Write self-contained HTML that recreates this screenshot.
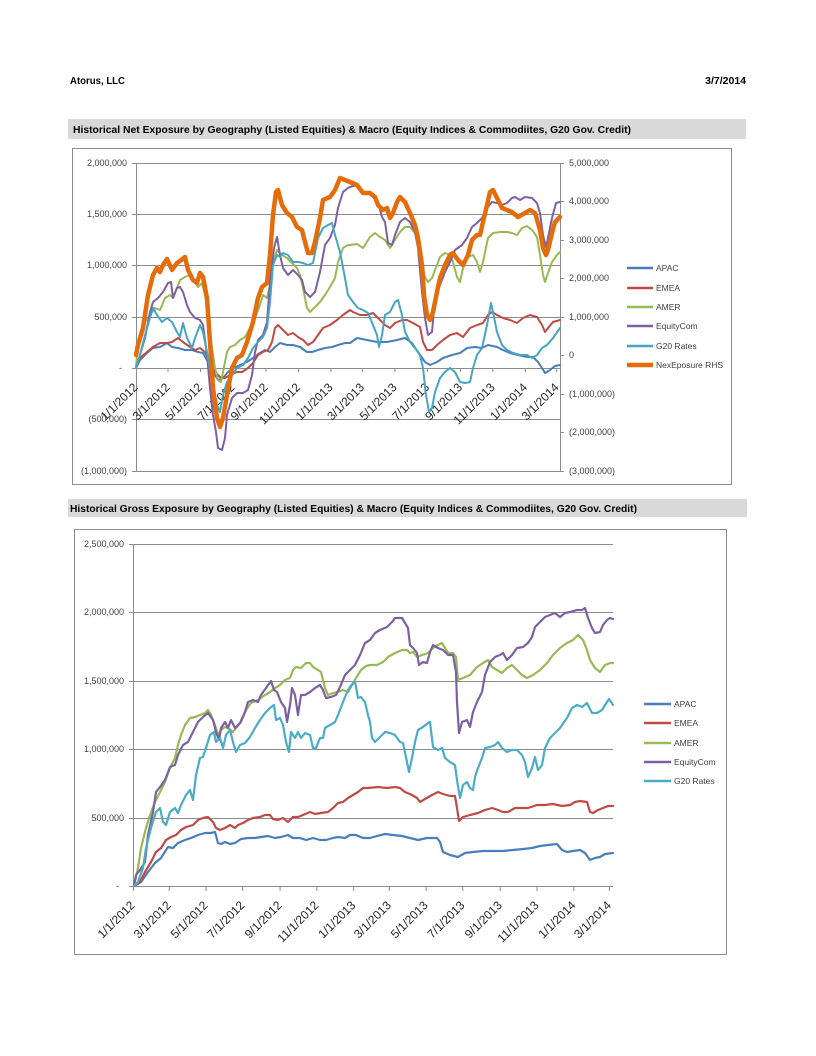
<!DOCTYPE html>
<html><head><meta charset="utf-8"><style>
html,body{margin:0;padding:0;background:#fff;}
svg{display:block;}
text{font-family:"Liberation Sans",sans-serif;}
</style></head><body>
<svg width="816" height="1056" viewBox="0 0 816 1056" xmlns="http://www.w3.org/2000/svg">
<rect width="816" height="1056" fill="#fff"/>
<!-- header -->
<text x="70" y="84" font-size="10" font-weight="bold" fill="#000" textLength="55" lengthAdjust="spacingAndGlyphs">Atorus, LLC</text>
<text x="746" y="84" font-size="10.5" font-weight="bold" fill="#000" text-anchor="end">3/7/2014</text>

<!-- title bar 1 -->
<rect x="68" y="119" width="678" height="20" fill="#D9D9D9"/>
<text x="73" y="133" font-size="10" font-weight="bold" fill="#000" textLength="558" lengthAdjust="spacingAndGlyphs">Historical Net Exposure by Geography (Listed Equities) &amp; Macro (Equity Indices &amp; Commodiites, G20 Gov. Credit)</text>

<!-- chart 1 frame -->
<rect x="72.5" y="148.5" width="659" height="336" fill="#fff" stroke="#8C8C8C" stroke-width="1"/>
<g stroke="#8C8C8C" stroke-width="1" fill="none">
<line x1="136" y1="163.5" x2="560" y2="163.5"/>
<line x1="136" y1="214.5" x2="560" y2="214.5"/>
<line x1="136" y1="265.5" x2="560" y2="265.5"/>
<line x1="136" y1="317.5" x2="560" y2="317.5"/>
<line x1="136" y1="368.5" x2="560" y2="368.5"/>
<line x1="136" y1="419.5" x2="560" y2="419.5"/>
<line x1="136" y1="471.5" x2="560" y2="471.5"/>
<line x1="136.5" y1="163" x2="136.5" y2="471"/>
<line x1="560.5" y1="163" x2="560.5" y2="471"/>
<!-- left ticks -->
<path d="M132 163.5H136M132 214.5H136M132 265.5H136M132 317.5H136M132 368.5H136M132 419.5H136M132 471.5H136"/>
<!-- right ticks -->
<path d="M560 163.5H564M560 201.5H564M560 240.5H564M560 278.5H564M560 317.5H564M560 355.5H564M560 394.5H564M560 432.5H564M560 471.5H564"/>
<!-- x ticks -->
<path d="M136.5 368V372M168 368V372M200.5 368V372M233 368V372M266 368V372M298.5 368V372M331 368V372M362.4 368V372M394.9 368V372M427.4 368V372M460.4 368V372M492.9 368V372M525.4 368V372M556.8 368V372"/>
</g>
<g font-size="9" fill="#404040" text-anchor="end">
<text x="127" y="166">2,000,000</text>
<text x="127" y="217">1,500,000</text>
<text x="127" y="268">1,000,000</text>
<text x="127" y="320">500,000</text>
<text x="122" y="371">-</text>
<text x="127" y="422">(500,000)</text>
<text x="127" y="474">(1,000,000)</text>
</g>
<g font-size="9" fill="#404040">
<text x="569" y="166">5,000,000</text>
<text x="569" y="204">4,000,000</text>
<text x="569" y="243">3,000,000</text>
<text x="569" y="281">2,000,000</text>
<text x="569" y="320">1,000,000</text>
<text x="569" y="358">0</text>
<text x="569" y="397">(1,000,000)</text>
<text x="569" y="435">(2,000,000)</text>
<text x="569" y="474">(3,000,000)</text>
</g>
<g font-size="12" fill="#262626" text-anchor="end">
<text transform="translate(138.5,388) rotate(-45)">1/1/2012</text>
<text transform="translate(170.5,388) rotate(-45)">3/1/2012</text>
<text transform="translate(203,388) rotate(-45)">5/1/2012</text>
<text transform="translate(235.5,388) rotate(-45)">7/1/2012</text>
<text transform="translate(268.5,388) rotate(-45)">9/1/2012</text>
<text transform="translate(301,388) rotate(-45)">11/1/2012</text>
<text transform="translate(333.5,388) rotate(-45)">1/1/2013</text>
<text transform="translate(365,388) rotate(-45)">3/1/2013</text>
<text transform="translate(397.5,388) rotate(-45)">5/1/2013</text>
<text transform="translate(430,388) rotate(-45)">7/1/2013</text>
<text transform="translate(463,388) rotate(-45)">9/1/2013</text>
<text transform="translate(495.5,388) rotate(-45)">11/1/2013</text>
<text transform="translate(528,388) rotate(-45)">1/1/2014</text>
<text transform="translate(559.5,388) rotate(-45)">3/1/2014</text>
</g>
<g fill="none" stroke-linejoin="round" stroke-linecap="round">
<polyline stroke="#4A7EBB" stroke-width="2" points="136,368 140,360 147,353 153,348 160,347 167,343 172,347 178,348 185,350 192,350 198,352 203,353 208,362 213,372 218,380 223,378 228,372 233,368 240,365 247,362 253,358 260,353 265,350 270,352 275,347 280,343 287,345 293,345 300,347 307,352 312,352 318,350 325,348 332,347 338,345 345,343 350,343 357,338 367,340 377,342 387,342 397,340 405,338 412,343 418,352 425,362 430,365 437,362 443,358 452,355 460,353 467,348 475,347 482,348 488,345 497,347 503,350 510,353 518,355 527,357 533,357 538,362 542,368 545,373 550,370 555,366 560,365"/>
<polyline stroke="#BE4B48" stroke-width="2" points="136,368 140,358 147,352 153,347 160,343 167,343 172,342 178,338 183,342 190,347 195,350 200,348 205,352 210,362 215,372 220,377 225,378 230,375 237,372 242,372 248,368 253,363 258,355 263,352 268,350 272,342 275,328 278,325 283,330 288,335 293,333 298,337 303,340 308,345 313,342 318,335 323,328 330,325 337,320 343,315 350,310 353,312 360,315 367,315 373,313 380,320 385,325 390,328 395,323 402,320 407,320 413,323 420,327 423,342 427,350 432,350 437,345 443,340 450,335 457,333 463,337 470,328 477,325 483,323 488,315 492,312 497,315 503,318 510,320 517,323 523,318 530,315 537,317 542,325 545,332 548,328 553,322 560,320"/>
<polyline stroke="#98B954" stroke-width="2" points="136,368 138,342 145,322 150,315 155,308 160,310 165,298 170,295 173,298 177,288 180,280 185,277 190,275 195,282 198,287 202,283 205,295 208,315 212,348 215,368 218,380 221,382 223,372 227,352 230,347 235,345 240,340 245,337 250,328 255,318 260,305 263,295 267,298 270,285 273,262 277,250 282,255 287,258 292,263 297,268 300,275 303,288 307,308 310,312 315,307 320,302 325,295 330,287 335,278 338,262 343,248 348,245 350,245 357,244 363,248 370,237 375,233 380,237 385,240 390,248 395,240 400,232 405,227 410,227 415,233 420,255 425,277 428,282 432,278 437,265 440,257 445,253 450,255 453,262 457,277 460,282 463,268 468,257 473,255 477,262 480,272 483,262 488,238 493,233 500,232 507,232 512,233 517,235 522,228 527,226 532,230 537,237 540,255 543,275 545,282 548,273 552,262 557,255 560,252"/>
<polyline stroke="#7D60A0" stroke-width="2" points="136,368 140,355 145,338 150,312 153,302 158,298 163,292 168,283 171,282 173,298 177,288 180,287 183,292 187,305 190,312 195,318 200,320 203,325 207,355 210,388 213,415 216,432 218,448 222,450 225,438 227,415 232,398 237,393 243,393 248,390 252,375 255,352 258,340 263,335 267,322 270,282 274,248 277,237 280,255 283,268 288,275 293,270 298,275 302,280 305,292 310,297 315,292 320,272 325,245 330,238 335,225 338,208 343,192 348,188 350,187 357,185 362,192 368,193 373,197 378,202 382,217 385,222 388,243 392,245 395,235 400,222 405,218 410,222 415,232 418,248 422,292 425,318 428,335 432,332 435,298 440,285 445,272 450,262 455,250 462,245 467,238 472,227 477,223 482,218 487,208 492,202 497,203 502,205 507,203 512,198 515,197 520,200 525,197 532,198 537,203 540,213 543,235 546,247 548,238 552,218 556,203 560,202"/>
<polyline stroke="#46A5C0" stroke-width="2" points="136,368 140,355 145,335 150,318 153,308 157,315 162,322 167,318 172,322 177,332 180,337 183,323 187,338 192,348 195,338 200,325 203,332 207,352 212,382 217,405 220,412 223,395 227,382 232,375 237,368 243,365 248,358 253,348 258,342 263,337 267,328 270,302 273,265 277,255 280,257 283,253 288,255 293,262 298,262 303,263 308,265 313,263 318,238 323,228 328,225 332,223 335,235 340,252 345,278 348,295 353,302 358,308 363,310 368,313 373,325 377,335 379,347 382,335 385,315 390,312 395,302 398,300 402,315 405,332 410,342 415,348 420,355 423,368 426,395 429,412 432,408 435,392 440,378 445,372 450,368 455,372 460,382 465,383 470,382 473,368 477,355 482,348 487,325 491,303 493,312 497,332 502,345 507,350 513,353 520,355 527,355 532,358 537,355 542,348 547,345 553,338 560,328"/>
<polyline stroke="#E46C0A" stroke-width="4.5" points="136,355 138,345 143,328 148,295 153,275 157,268 160,272 163,265 167,259 172,270 177,263 180,261 185,257 188,270 193,280 197,283 200,273 203,277 207,298 210,342 213,388 217,418 220,427 223,418 227,395 232,368 237,358 242,355 247,342 253,322 258,298 262,287 267,283 270,255 273,215 276,192 278,190 282,205 287,213 292,217 297,227 302,230 305,242 308,253 312,253 315,242 320,218 323,200 330,197 335,190 340,178 345,180 350,182 357,185 363,193 370,193 375,197 378,205 383,210 387,208 390,218 393,213 397,202 400,197 405,202 410,213 415,225 418,238 422,265 424,295 427,315 430,320 433,312 437,292 440,278 445,265 450,255 453,253 458,260 463,265 468,255 472,240 477,235 480,235 483,222 487,205 490,192 493,190 497,198 502,208 507,210 512,212 518,217 525,213 530,210 535,213 540,230 543,248 546,255 548,250 552,233 555,222 560,217"/>
</g>
<!-- legend 1 -->
<g stroke-linecap="butt">
<line x1="627" y1="268" x2="653" y2="268" stroke="#4A7EBB" stroke-width="2.5"/>
<line x1="627" y1="288" x2="653" y2="288" stroke="#BE4B48" stroke-width="2.5"/>
<line x1="627" y1="307" x2="653" y2="307" stroke="#98B954" stroke-width="2.5"/>
<line x1="627" y1="326" x2="653" y2="326" stroke="#7D60A0" stroke-width="2.5"/>
<line x1="627" y1="346" x2="653" y2="346" stroke="#46A5C0" stroke-width="2.5"/>
<line x1="627" y1="365" x2="653" y2="365" stroke="#E46C0A" stroke-width="4.5"/>
</g>
<g font-size="8.5" fill="#404040">
<text x="656" y="271">APAC</text>
<text x="656" y="291">EMEA</text>
<text x="656" y="310">AMER</text>
<text x="656" y="329">EquityCom</text>
<text x="656" y="349">G20 Rates</text>
<text x="656" y="368">NexEposure RHS</text>
</g>

<!-- title bar 2 -->
<rect x="68" y="499" width="679" height="18" fill="#D9D9D9"/>
<text x="70" y="512" font-size="10" font-weight="bold" fill="#000" textLength="567" lengthAdjust="spacingAndGlyphs">Historical Gross Exposure by Geography (Listed Equities) &amp; Macro (Equity Indices &amp; Commodiites, G20 Gov. Credit)</text>

<!-- chart 2 frame -->
<rect x="74.5" y="529.5" width="652" height="425" fill="#fff" stroke="#8C8C8C" stroke-width="1"/>
<g stroke="#8C8C8C" stroke-width="1" fill="none">
<line x1="133" y1="544.5" x2="613" y2="544.5"/>
<line x1="133" y1="612.5" x2="613" y2="612.5"/>
<line x1="133" y1="681.5" x2="613" y2="681.5"/>
<line x1="133" y1="749.5" x2="613" y2="749.5"/>
<line x1="133" y1="818.5" x2="613" y2="818.5"/>
<line x1="133" y1="886.5" x2="613" y2="886.5"/>
<line x1="133.5" y1="544" x2="133.5" y2="886"/>
<path d="M129 544.5H133M129 612.5H133M129 681.5H133M129 749.5H133M129 818.5H133M129 886.5H133"/>
<path d="M133.5 886V891M169.2 886V891M206 886V891M242.7 886V891M280.1 886V891M316.9 886V891M353.7 886V891M389.3 886V891M426.1 886V891M462.8 886V891M500.2 886V891M537 886V891M573.8 886V891M609.4 886V891"/>
</g>
<g font-size="9" fill="#404040" text-anchor="end">
<text x="124" y="547">2,500,000</text>
<text x="124" y="615">2,000,000</text>
<text x="124" y="684">1,500,000</text>
<text x="124" y="752">1,000,000</text>
<text x="124" y="821">500,000</text>
<text x="119" y="889">-</text>
</g>
<g font-size="12" fill="#262626" text-anchor="end">
<text transform="translate(135.5,906) rotate(-45)">1/1/2012</text>
<text transform="translate(171.7,906) rotate(-45)">3/1/2012</text>
<text transform="translate(208.5,906) rotate(-45)">5/1/2012</text>
<text transform="translate(245.2,906) rotate(-45)">7/1/2012</text>
<text transform="translate(282.6,906) rotate(-45)">9/1/2012</text>
<text transform="translate(319.4,906) rotate(-45)">11/1/2012</text>
<text transform="translate(356.2,906) rotate(-45)">1/1/2013</text>
<text transform="translate(391.8,906) rotate(-45)">3/1/2013</text>
<text transform="translate(428.6,906) rotate(-45)">5/1/2013</text>
<text transform="translate(465.3,906) rotate(-45)">7/1/2013</text>
<text transform="translate(502.7,906) rotate(-45)">9/1/2013</text>
<text transform="translate(539.5,906) rotate(-45)">11/1/2013</text>
<text transform="translate(576.3,906) rotate(-45)">1/1/2014</text>
<text transform="translate(611.9,906) rotate(-45)">3/1/2014</text>
</g>
<g fill="none" stroke-linejoin="round" stroke-linecap="round" stroke-width="2.2">
<polyline stroke="#4A7EBB" points="134,886 141,882 148,872 155,863 161,858 168,847 173,848 178,843 185,840 191,838 198,835 205,833 211,833 215,832 218,843 221,844 225,842 230,844 235,843 241,839 248,838 255,838 261,837 268,836 275,838 281,837 288,835 293,838 300,838 306,840 313,838 320,840 326,840 333,838 338,837 345,838 350,835 356,835 363,838 370,838 377,836 385,834 393,835 402,836 410,838 418,840 427,838 437,838 440,842 443,852 450,855 458,857 465,853 473,852 483,851 493,851 503,851 513,850 523,849 532,848 540,846 548,845 557,844 562,850 567,852 573,851 580,850 585,853 590,860 595,858 600,857 605,854 613,853"/>
<polyline stroke="#BE4B48" points="134,886 140,882 145,872 151,862 156,852 161,848 166,840 171,837 176,835 181,830 186,827 193,825 198,820 203,818 208,817 213,822 216,828 220,830 225,828 230,825 235,828 238,825 243,823 248,820 253,818 260,817 265,815 270,815 273,819 278,820 283,818 288,822 293,817 298,817 303,815 310,812 315,814 321,813 328,812 333,808 338,803 343,802 348,798 353,795 358,792 363,788 368,788 378,787 387,788 395,787 400,788 405,792 412,795 417,798 420,802 425,799 432,795 438,792 443,794 450,796 455,796 457,808 459,821 463,817 470,815 478,813 485,810 492,808 498,810 503,812 508,812 515,808 522,808 528,808 537,805 545,805 553,804 562,806 570,805 575,802 580,801 587,802 590,812 593,813 598,810 603,808 608,806 613,806"/>
<polyline stroke="#98B954" points="134,886 138,868 141,848 146,828 150,815 155,802 160,792 165,782 170,768 175,758 178,745 181,735 185,725 190,718 195,717 200,715 205,713 208,710 211,715 215,725 218,735 221,730 225,727 228,728 233,732 236,728 241,722 246,710 251,703 258,700 265,695 270,692 275,688 280,685 285,680 290,678 293,670 296,667 301,668 306,663 310,663 313,667 318,670 321,672 325,688 328,695 333,693 338,692 343,690 348,692 351,687 356,678 361,670 366,666 370,665 377,665 383,662 388,657 395,653 402,650 407,650 410,653 413,652 417,657 422,655 428,653 433,648 438,645 442,643 445,648 448,653 453,653 456,657 458,680 463,678 470,675 477,667 483,663 488,660 492,667 497,670 502,673 507,668 512,665 517,670 522,675 527,678 533,675 540,670 547,663 553,655 560,648 567,643 573,640 578,635 583,640 587,650 590,660 595,668 600,672 605,665 610,663 613,663"/>
<polyline stroke="#7D60A0" points="134,886 136,875 140,870 145,862 148,835 153,812 156,792 160,787 165,780 170,767 175,765 178,755 183,745 188,742 193,732 198,722 203,717 208,713 213,720 216,732 219,740 221,728 225,722 228,728 231,720 235,728 240,723 245,712 248,702 253,700 258,702 261,695 266,688 271,681 274,690 277,692 281,702 285,708 287,722 290,705 292,688 295,695 298,715 301,695 305,695 310,692 315,688 320,685 323,690 326,698 331,697 336,695 340,687 345,675 350,670 355,665 360,655 365,643 370,640 375,633 380,630 387,627 392,622 395,618 402,618 405,623 408,628 410,645 413,648 417,653 419,665 423,662 427,663 430,652 433,645 438,648 443,650 448,655 453,655 456,672 457,702 459,733 462,722 467,720 470,727 473,712 477,702 482,692 485,675 490,662 495,657 500,655 503,653 507,660 512,655 517,648 523,647 528,643 532,637 535,627 540,622 545,617 550,615 555,613 560,617 565,613 570,612 577,610 582,610 585,608 588,618 592,628 595,633 600,632 603,625 607,620 610,618 613,619"/>
<polyline stroke="#4BACC6" points="134,886 138,882 143,868 146,848 151,828 156,812 160,808 163,822 166,825 170,812 175,808 178,813 181,805 186,795 190,790 193,800 196,775 200,758 203,757 206,748 210,735 214,732 216,742 220,738 223,748 226,735 230,730 233,742 236,752 240,745 245,743 250,737 255,728 260,720 265,713 270,708 274,705 276,720 280,718 283,725 286,742 289,752 291,732 295,738 298,732 301,738 305,733 310,735 313,748 316,748 320,738 323,738 325,728 330,725 335,722 338,715 343,702 348,690 353,683 355,682 358,698 361,697 365,702 368,715 370,722 372,738 375,742 380,737 385,732 390,733 395,735 400,742 403,743 407,762 409,772 412,758 415,742 418,730 423,727 428,723 430,722 433,747 438,750 442,748 445,758 450,762 455,765 457,780 460,798 463,785 467,782 470,788 473,790 475,777 478,768 482,758 485,748 490,747 495,745 498,742 502,748 507,752 512,750 517,750 522,755 525,762 528,777 532,768 535,757 538,770 542,765 545,748 550,738 555,733 560,728 567,718 572,708 577,705 582,707 587,703 592,713 597,713 602,710 607,702 609,699 613,705"/>
</g>
<!-- legend 2 -->
<g stroke-width="2.5">
<line x1="644" y1="704" x2="671" y2="704" stroke="#4A7EBB"/>
<line x1="644" y1="723" x2="671" y2="723" stroke="#BE4B48"/>
<line x1="644" y1="743" x2="671" y2="743" stroke="#98B954"/>
<line x1="644" y1="762" x2="671" y2="762" stroke="#7D60A0"/>
<line x1="644" y1="781" x2="671" y2="781" stroke="#4BACC6"/>
</g>
<g font-size="8.5" fill="#404040">
<text x="674" y="707">APAC</text>
<text x="674" y="726">EMEA</text>
<text x="674" y="746">AMER</text>
<text x="674" y="765">EquityCom</text>
<text x="674" y="784">G20 Rates</text>
</g>
</svg>
</body></html>
